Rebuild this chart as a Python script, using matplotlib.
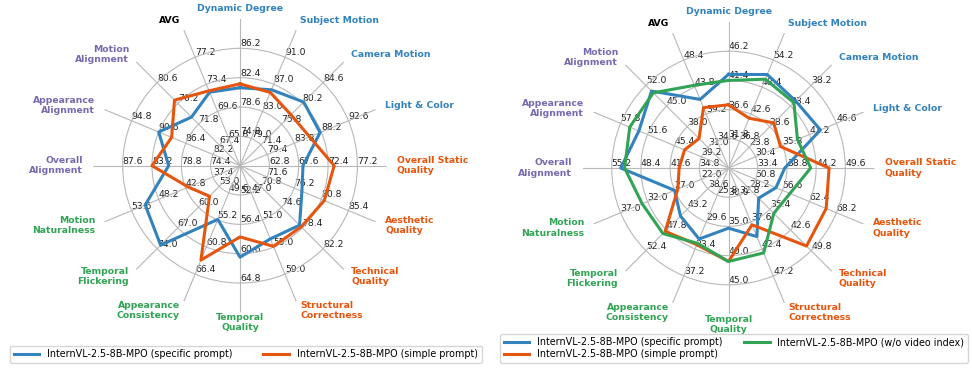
import numpy as np
import matplotlib
matplotlib.use("Agg")
import matplotlib.pyplot as plt

categories = ["Dynamic Degree", "Subject Motion", "Camera Motion", "Light & Color",
              "Overall Static\nQuality", "Aesthetic\nQuality", "Technical\nQuality",
              "Structural\nCorrectness", "Temporal\nQuality", "Appearance\nConsistency",
              "Temporal\nFlickering", "Motion\nNaturalness", "Overall\nAlignment",
              "Appearance\nAlignment", "Motion\nAlignment", "AVG"]

BLUE = "#3182bd"
ORANGE = "#e6550d"
GREEN = "#31a354"
PURPLE = "#756bb1"
label_colors = [BLUE] * 4 + [ORANGE] * 4 + [GREEN] * 4 + [PURPLE] * 3 + ["black"]

# axis ranges (value at centre, value at outer end of spoke)
left_lo = [71, 75, 67, 75, 58, 67, 67, 43, 48, 44, 46, 32, 70, 78, 63, 62]
left_hi = [90, 95, 89, 97, 82, 90, 86, 63, 69, 72, 81, 59, 92, 99, 85, 81]
right_lo = [27, 31, 19, 25, 28, 45, 21, 28, 25, 22, 34, 17, 28, 33, 24, 30]
right_hi = [51, 60, 43, 52, 55, 74, 57, 52, 50, 41, 57, 42, 62, 64, 59, 53]

# left chart
left_specific = [81.1, 86.2, 80.5, 88.0, 68.3, 77.5, 77.9, 53.8,
                 61.1, 55.1, 72.8, 50.9, 80.7, 90.6, 73.3, 72.3]
left_simple = [81.6, 85.8, 77.8, 86.3, 73.4, 81.3, 78.2, 54.9,
               58.2, 63.5, 56.3, 42.3, 83.2, 88.6, 76.9, 72.5]

# right chart
right_specific = [42.4, 51.1, 34.6, 43.4, 38.4, 55.2, 31.5, 40.2,
                  35.3, 32.0, 44.7, 27.0, 53.1, 53.6, 50.1, 41.7]
right_simple = [37.4, 41.7, 29.5, 35.4, 46.6, 66.0, 48.2, 38.1,
                41.0, 32.8, 48.1, 26.4, 39.5, 43.1, 34.0, 40.3]
right_novideo = [41.4, 50.1, 34.2, 38.8, 43.2, 58.2, 36.8, 43.1,
                 41.0, 32.6, 48.6, 33.0, 52.2, 55.7, 49.5, 44.1]

name_specific = "InternVL-2.5-8B-MPO (specific prompt)"
name_simple = "InternVL-2.5-8B-MPO (simple prompt)"
name_novideo = "InternVL-2.5-8B-MPO (w/o video index)"

rings = [0.2, 0.4, 0.6, 0.8]
FS = 6.7

n = len(categories)
angles = np.linspace(0, 2 * np.pi, n, endpoint=False)


def radar(ax, lo, hi, series):
    lo = np.array(lo, float)
    hi = np.array(hi, float)
    ax.set_theta_offset(np.pi / 2)
    ax.set_theta_direction(-1)
    ax.set_ylim(0, 1)
    ax.set_thetagrids(np.degrees(angles), [""] * n)
    ax.set_rgrids(rings, [""] * len(rings))
    ax.grid(color="#b8b8b8", linewidth=0.8)
    ax.spines["polar"].set_visible(False)
    ax.tick_params(pad=0)

    for k in range(n):
        for f in rings:
            val = lo[k] + (hi[k] - lo[k]) * f
            ax.text(angles[k], f, "%.1f" % val, fontsize=FS, ha="left",
                    va="bottom", color="#222222", zorder=1)
        # category label
        c = np.sin(angles[k])
        if abs(c) < 1e-6:
            ha = "center"
        elif c > 0:
            ha = "left"
        else:
            ha = "right"
        ax.text(angles[k], 1.07, categories[k], fontsize=FS, fontweight="bold",
                color=label_colors[k], ha=ha, va="center", multialignment=ha)

    lines = []
    for vals, color, name in series:
        r = (np.array(vals) - lo) / (hi - lo)
        th = np.append(angles, angles[0])
        rr = np.append(r, r[0])
        ln, = ax.plot(th, rr, color=color, linewidth=2.2, label=name, zorder=3)
        lines.append(ln)
    return lines


fig = plt.figure(figsize=(9.72, 3.71), dpi=100)
ax1 = fig.add_axes([0.0960, 0.158, 0.3019, 0.7908], projection="polar")
ax2 = fig.add_axes([0.5993, 0.1536, 0.3004, 0.787], projection="polar")

l1 = radar(ax1, left_lo, left_hi, [(left_specific, BLUE, name_specific),
                                   (left_simple, ORANGE, name_simple)])
l2 = radar(ax2, right_lo, right_hi, [(right_specific, BLUE, name_specific),
                                     (right_simple, ORANGE, name_simple),
                                     (right_novideo, GREEN, name_novideo)])

fig.legend(handles=l1, loc="lower center", bbox_to_anchor=(0.2528, 0.008),
           ncol=2, fontsize=FS + 0.2, handlelength=2.7, columnspacing=3.2,
           borderpad=0.4, handletextpad=0.8)
fig.legend(handles=l2, loc="lower center", bbox_to_anchor=(0.755, 0.008),
           ncol=2, fontsize=FS + 0.2, handlelength=2.7, columnspacing=2.2,
           borderpad=0.4, handletextpad=0.8, labelspacing=0.2)

fig.savefig("out.png", dpi=100)
